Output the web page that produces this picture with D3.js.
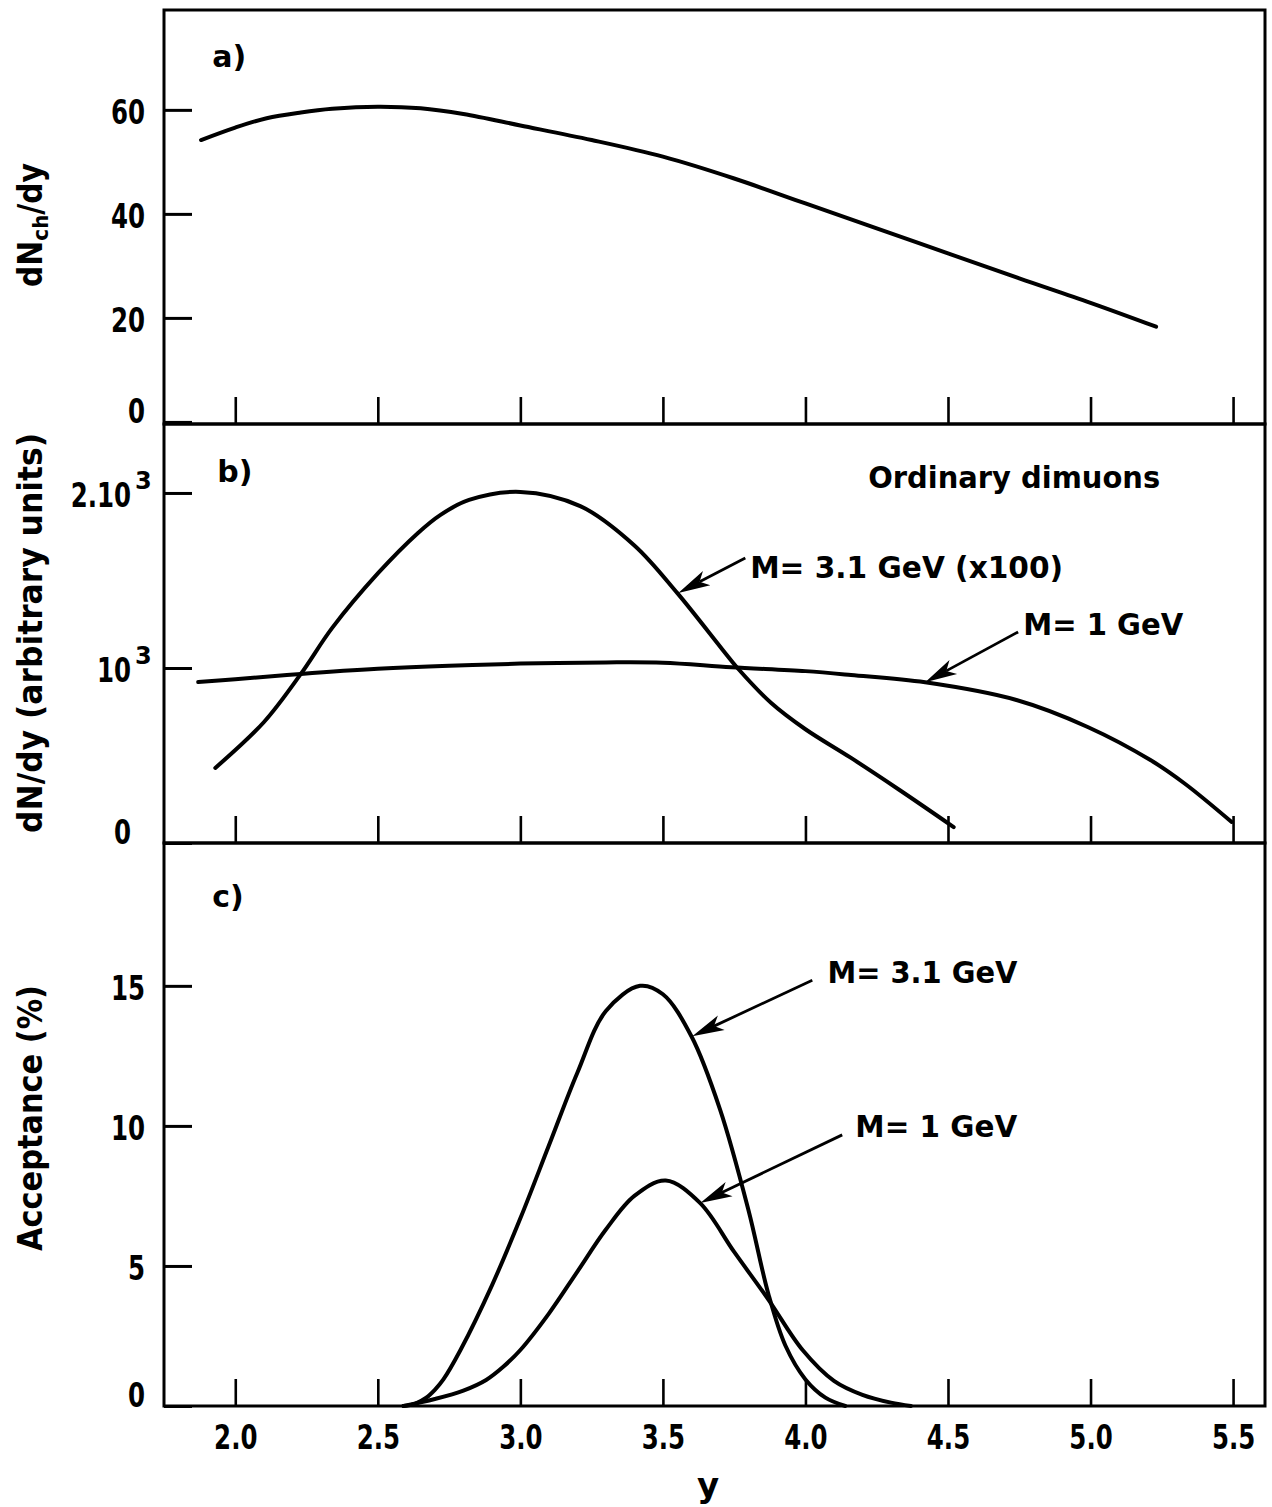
<!DOCTYPE html>
<html>
<head>
<meta charset="utf-8">
<script src="https://cdn.jsdelivr.net/npm/d3@7"></script>
<style>
  body { margin: 0; background: #fff; }
  svg text { font-family: "DejaVu Sans", sans-serif; fill: #000; font-weight: bold; }
</style>
</head>
<body>
<svg id="chart" width="1272" height="1507"></svg>
<script>
// x axis (rapidity y)
const xTicks = [2.0, 2.5, 3.0, 3.5, 4.0, 4.5, 5.0, 5.5];

// a) charged multiplicity
const rapA  = [1.88, 2.0, 2.11, 2.23, 2.34, 2.5, 2.65, 2.8, 3.0, 3.25, 3.5, 3.75, 4.0, 4.25, 4.5, 4.75, 5.0, 5.23];
const dNchA = [54.2, 56.6, 58.4, 59.5, 60.2, 60.6, 60.3, 59.2, 57.0, 54.2, 51.0, 46.8, 42.0, 37.2, 32.4, 27.6, 22.9, 18.3];
const yTicksA = [0, 20, 40, 60];

// b) ordinary dimuons
const rapB1  = [1.87, 2.0, 2.23, 2.5, 2.75, 3.0, 3.3, 3.5, 3.74, 4.0, 4.16, 4.42, 4.74, 4.99, 5.21, 5.33, 5.495];
const dNdyB1 = [920, 936, 966, 995, 1013, 1025, 1032, 1030, 1004, 982, 960, 918, 817, 663, 474, 340, 120];
const rapB31  = [1.93, 2.1, 2.23, 2.34, 2.5, 2.64, 2.72, 2.82, 3.0, 3.21, 3.4, 3.55, 3.71, 3.76, 3.88, 4.0, 4.16, 4.33, 4.52];
const dNdyB31 = [429, 690, 966, 1229, 1540, 1770, 1875, 1960, 2006, 1925, 1700, 1429, 1103, 1003, 800, 650, 486, 303, 91];
const yTicksB = [0, 1000, 2000];
const yLabelsB = ['0', '10', '2.10'];
const yExpB = ['', '3', '3'];

// c) acceptance
const rapC31 = [2.59, 2.63, 2.67, 2.7, 2.73, 2.79, 2.9, 3.0, 3.1, 3.2, 3.3, 3.42, 3.5, 3.6, 3.7, 3.8, 3.87, 3.93, 4.0, 4.07, 4.14];
const accC31 = [0, 0.08, 0.3, 0.58, 0.95, 2.0, 4.3, 6.7, 9.3, 11.9, 14.1, 15.0, 14.7, 13.2, 10.6, 7.0, 4.0, 2.15, 0.95, 0.3, 0];
const rapC1 = [2.59, 2.7, 2.8, 2.88, 2.94, 3.0, 3.1, 3.2, 3.3, 3.4, 3.51, 3.63, 3.75, 3.87, 3.99, 4.1, 4.2, 4.3, 4.37];
const accC1 = [0, 0.25, 0.55, 0.93, 1.4, 2.0, 3.3, 4.8, 6.3, 7.5, 8.05, 7.25, 5.5, 3.8, 2.0, 0.9, 0.4, 0.12, 0];
const yTicksC = [0, 5, 10, 15];

document.addEventListener('DOMContentLoaded', () => {
    const svg = d3.select('#chart');
    const left = 164, right = 1265;

    const x = d3.scaleLinear().domain([1.75, 5.612]).range([left, right]);

    const panels = [
        { tag: 'a)', y: d3.scaleLinear().domain([-0.4, 79.2]).range([424, 10]), ticks: yTicksA,
          tagAt: [1.919, 68.3],
          series: [[rapA, dNchA]] },
        { tag: 'b)', y: d3.scaleLinear().domain([0, 2394]).range([843, 424]), ticks: yTicksB,
          tagAt: [1.937, 2063],
          series: [[rapB1, dNdyB1], [rapB31, dNdyB31]] },
        { tag: 'c)', y: d3.scaleLinear().domain([0, 20.1]).range([1406, 843]), ticks: yTicksC,
          tagAt: [1.919, 17.8],
          series: [[rapC31, accC31], [rapC1, accC1]] }
    ];

    const squeeze = (sel, k) => sel.each(function () {
        const w = this.getComputedTextLength();
        d3.select(this).attr('textLength', w * k).attr('lengthAdjust', 'spacingAndGlyphs');
    });

    const line = (y) => d3.line()
        .x(d => x(d[0]))
        .y(d => Math.min(y(d[1]), y(0)))
        .curve(d3.curveCatmullRom.alpha(0.5));

    const arrow = (y, from, to) => {
        const x0 = x(from[0]), y0 = y(from[1]), x1 = x(to[0]), y1 = y(to[1]);
        const len = Math.hypot(x1 - x0, y1 - y0);
        const ux = (x1 - x0) / len, uy = (y1 - y0) / len;
        const hl = 32, hw = 8;
        const bx = x1 - ux * hl, by = y1 - uy * hl;
        svg.append('line')
            .attr('x1', x0).attr('y1', y0)
            .attr('x2', bx + ux * 8).attr('y2', by + uy * 8)
            .attr('stroke', '#000').attr('stroke-width', 2.8);
        svg.append('path')
            .attr('d', `M${x1},${y1}L${bx - uy * hw},${by + ux * hw}L${bx + ux * 8},${by + uy * 8}L${bx + uy * hw},${by - ux * hw}Z`)
            .attr('fill', '#000');
    };

    panels.forEach((p, i) => {
        const [y0, y1] = p.y.range();

        // frame
        svg.append('rect')
            .attr('x', left).attr('y', y1)
            .attr('width', right - left).attr('height', y0 - y1)
            .attr('fill', 'none').attr('stroke', '#000').attr('stroke-width', 3);

        // inward y ticks
        const gy = svg.append('g')
            .attr('transform', `translate(${left},0)`)
            .call(d3.axisLeft(p.y).tickValues(p.ticks).tickSizeInner(-28).tickSizeOuter(0).tickFormat(''));
        gy.select('.domain').remove();
        gy.selectAll('line').attr('stroke-width', 3);

        // inward x ticks
        const last = i === panels.length - 1;
        const gx = svg.append('g')
            .attr('transform', `translate(0,${y0})`)
            .call(d3.axisBottom(x).tickValues(xTicks).tickSizeInner(-27).tickSizeOuter(0)
                .tickPadding(19).tickFormat(last ? d3.format('.1f') : ''));
        gx.select('.domain').remove();
        gx.selectAll('line').attr('stroke-width', 2.6);
        gx.selectAll('text').attr('font-size', 34).attr('font-family', '"DejaVu Sans", sans-serif')
            .attr('font-weight', 'bold').attr('fill', '#000');
        squeeze(gx.selectAll('text'), 0.72);

        // y tick labels, narrowed with a horizontal scale
        const lx = i === 1 ? 131 : 145;
        svg.append('g').selectAll('text')
            .data(p.ticks)
            .enter().append('text')
            .attr('transform', d => `translate(${lx},${d === 0 ? p.y(0) + 1 : p.y(d) + 14}) scale(0.72,1)`)
            .attr('text-anchor', 'end')
            .attr('font-size', 34)
            .text((d, j) => i === 1 ? yLabelsB[j] : d);

        // exponents, set apart to the right of the mantissa
        if (i === 1) {
            svg.append('g').selectAll('text')
                .data(p.ticks.filter((d, j) => yExpB[j]))
                .enter().append('text')
                .attr('x', 135)
                .attr('y', d => p.y(d) - 4)
                .attr('font-size', 24)
                .text('3');
        }

        // panel tag
        svg.append('text')
            .attr('x', x(p.tagAt[0])).attr('y', p.y(p.tagAt[1]))
            .attr('font-size', 30)
            .text(p.tag);

        // curves
        p.series.forEach(([xs, ys]) => {
            svg.append('path')
                .datum(xs.map((v, k) => [v, ys[k]]))
                .attr('d', line(p.y))
                .attr('fill', 'none')
                .attr('stroke', '#000')
                .attr('stroke-width', 4)
                .attr('stroke-linecap', 'round');
        });
    });

    const yB = panels[1].y, yC = panels[2].y;

    const notes = [
        { y: yB, text: 'Ordinary dimuons', at: [4.22, 2029], len: 292 },
        { y: yB, text: 'M= 3.1 GeV (x100)', at: [3.806, 1514], len: 313, from: [3.789, 1629], to: [3.554, 1429] },
        { y: yB, text: 'M= 1 GeV', at: [4.764, 1189], len: 160, from: [4.746, 1206], to: [4.42, 918] },
        { y: yC, text: 'M= 3.1 GeV', at: [4.077, 15.1], len: 190, from: [4.024, 15.2], to: [3.603, 13.2] },
        { y: yC, text: 'M= 1 GeV', at: [4.175, 9.6], len: 162, from: [4.129, 9.68], to: [3.631, 7.25] }
    ];

    notes.forEach(n => {
        svg.append('text')
            .attr('x', x(n.at[0])).attr('y', n.y(n.at[1]))
            .attr('font-size', 31)
            .attr('textLength', n.len)
            .attr('lengthAdjust', 'spacingAndGlyphs')
            .text(n.text);
        if (n.from) arrow(n.y, n.from, n.to);
    });

    // axis titles
    const titleA = svg.append('text')
        .attr('transform', 'translate(42,225) rotate(-90)')
        .attr('text-anchor', 'middle')
        .attr('font-size', 33)
        .attr('textLength', 124)
        .attr('lengthAdjust', 'spacingAndGlyphs');
    titleA.append('tspan').text('dN');
    titleA.append('tspan').attr('font-size', 22).attr('dy', 6).text('ch');
    titleA.append('tspan').attr('dy', -6).text('/dy');

    svg.append('text')
        .attr('transform', 'translate(42,633) rotate(-90)')
        .attr('text-anchor', 'middle')
        .attr('font-size', 33)
        .attr('textLength', 400)
        .attr('lengthAdjust', 'spacingAndGlyphs')
        .text('dN/dy (arbitrary units)');

    svg.append('text')
        .attr('transform', 'translate(42,1118) rotate(-90)')
        .attr('text-anchor', 'middle')
        .attr('font-size', 34)
        .attr('textLength', 266)
        .attr('lengthAdjust', 'spacingAndGlyphs')
        .text('Acceptance (%)');

    svg.append('text')
        .attr('x', 708).attr('y', 1497)
        .attr('text-anchor', 'middle')
        .attr('font-size', 34)
        .text('y');
});
</script>
</body>
</html>
